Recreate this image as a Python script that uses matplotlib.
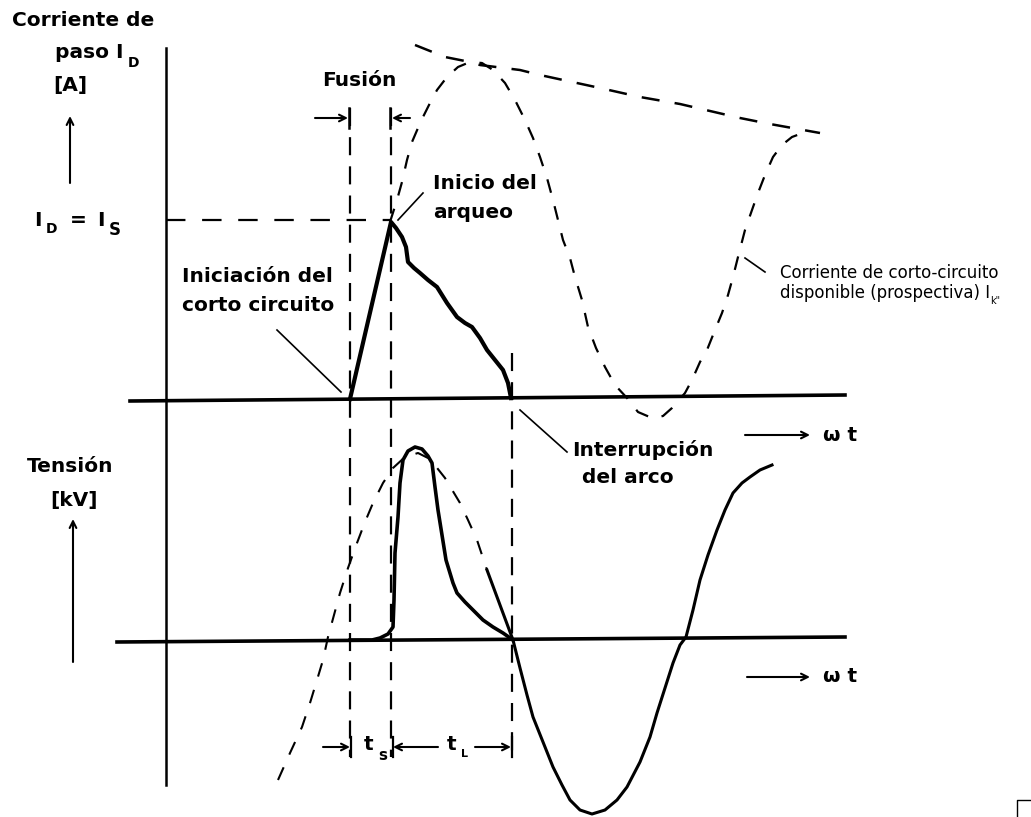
import matplotlib
matplotlib.use("Agg")
import matplotlib.pyplot as plt

plt.rcParams["lines.scale_dashes"] = False
plt.rcParams["font.family"] = ["DejaVu Sans"]

# ---------------------------------------------------------------
# traced curves (image pixel coordinates: x right, y down)
# ---------------------------------------------------------------

# actual let-through current (thick)
current_x = [350, 391, 396, 402, 406, 408, 414, 420, 428, 437, 442, 447,
             457, 465, 472, 480, 487, 495, 503, 508, 511]
current_y = [399, 222, 228, 237, 247, 262, 268, 273, 280, 287, 295, 303,
             317, 323, 327, 338, 350, 360, 370, 383, 398]

# prospective short-circuit current (dashed)
prosp_x = [390, 397, 402, 407, 412, 418, 423, 430, 437, 447, 458, 470,
           482, 493, 505, 515, 525, 533, 540, 547, 553, 558, 563, 570,
           575, 582, 588, 596, 605, 615, 627, 638, 652, 663, 672, 685,
           692, 700, 707, 715, 722, 728, 733, 738, 745, 752, 758, 765,
           773, 782, 792, 808]
prosp_y = [222, 200, 182, 160, 142, 128, 117, 103, 90, 77, 67, 62,
           63, 70, 83, 100, 120, 138, 157, 178, 200, 220, 240, 258,
           277, 300, 327, 348, 367, 385, 398, 412, 418, 416, 408, 393,
           380, 362, 350, 330, 313, 295, 277, 257, 230, 210, 193, 175,
           157, 145, 137, 131]

# envelope of the prospective current (dashed)
env_x = [415, 445, 470, 480, 520, 540, 600, 640, 680, 740, 770, 820]
env_y = [45, 57, 62, 65, 70, 75, 88, 97, 104, 118, 124, 133]

# arc voltage (thick)
volt_x = [350, 372, 380, 388, 393, 394, 395, 398, 400, 403, 408, 415,
          422, 428, 432, 435, 438, 442, 446, 453, 457, 465, 473, 483,
          493, 503, 513]
volt_y = [640, 640, 638, 634, 627, 600, 553, 517, 483, 460, 451, 447,
          449, 456, 463, 487, 510, 535, 560, 583, 593, 602, 610, 620,
          627, 633, 640]

# prospective voltage before interruption (dashed)
vprosp_x = [278, 290, 302, 310, 317, 323, 328, 334, 340, 348, 357, 365,
            373, 383, 393, 405, 418, 430, 445, 460, 468, 477, 487]
vprosp_y = [780, 753, 727, 703, 680, 660, 637, 615, 593, 568, 543, 522,
            503, 483, 468, 457, 453, 459, 478, 503, 520, 540, 570]

# recovery voltage after interruption (solid)
vrec_x = [487, 500, 513, 520, 527, 533, 543, 553, 562, 570, 580, 592,
          605, 617, 627, 640, 650, 657, 665, 673, 680, 686, 693, 700,
          708, 717, 725, 733, 742, 750, 760, 772]
vrec_y = [570, 605, 640, 668, 695, 717, 742, 767, 785, 800, 810, 814,
          810, 800, 787, 762, 737, 713, 688, 663, 645, 637, 610, 580,
          555, 530, 510, 493, 483, 477, 470, 465]

# marker positions
t_start = 350      # short circuit begins
t_arc = 391        # arcing begins
t_end = 512        # arc interrupted
i_peak = 220       # I_D = I_S level

fig = plt.figure(figsize=(10.31, 8.17), dpi=100)
ax = fig.add_axes([0, 0, 1, 1])
ax.set_xlim(0, 1031)
ax.set_ylim(817, 0)
ax.axis("off")

K = "black"
dash_long = (0, (13, 8))
dash_curve = (0, (10, 10))

# axes lines
ax.plot([166, 166], [48, 785], color=K, lw=1.8)
ax.plot([130, 845], [401, 395], color=K, lw=2.6)
ax.plot([117, 845], [642, 637], color=K, lw=2.6)

# vertical time markers
ax.plot([t_start, t_start], [108, 757], color=K, lw=1.6, linestyle=dash_long)
ax.plot([t_arc, t_arc], [108, 757], color=K, lw=1.6, linestyle=dash_long)
ax.plot([t_end, t_end], [353, 757], color=K, lw=1.6, linestyle=dash_long)
ax.plot([166, t_arc], [i_peak, i_peak], color=K, lw=1.6,
        linestyle=(0, (14, 12)))

# curves
ax.plot(prosp_x, prosp_y, color=K, lw=1.6, linestyle=dash_curve)
ax.plot(env_x, env_y, color=K, lw=1.8, linestyle=(0, (13, 11)))
ax.plot(current_x, current_y, color=K, lw=3.0, solid_joinstyle="round")
ax.plot(vprosp_x, vprosp_y, color=K, lw=1.5, linestyle=dash_curve)
ax.plot(vrec_x, vrec_y, color=K, lw=2.2)
ax.plot(volt_x, volt_y, color=K, lw=2.6, solid_joinstyle="round")

# arrows
arr = dict(arrowstyle="->", color=K, lw=1.5, shrinkA=0, shrinkB=0,
           mutation_scale=12)
for x0, y0, x1, y1 in [
    (70, 183, 70, 116),      # current axis
    (73, 662, 73, 519),      # voltage axis
    (745, 435, 810, 435),    # wt top
    (747, 677, 810, 677),    # wt bottom
    (315, 118, 348, 118),    # Fusion
    (410, 118, 392, 118),
    (323, 747, 350, 747),    # t_s
    (438, 747, 393, 747),    # t_L
    (475, 747, 511, 747),
]:
    ax.annotate("", xy=(x1, y1), xytext=(x0, y0), arrowprops=arr)

# short bars at the fusion / time arrows
for x in (349, 390):
    ax.plot([x, x], [108, 128], color=K, lw=1.8)
for x in (351, 393, 512):
    ax.plot([x, x], [737, 757], color=K, lw=1.6)

# leader lines
for (x0, y0), (x1, y1) in [
    ((423, 193), (398, 220)),
    ((277, 330), (341, 392)),
    ((520, 410), (567, 452)),
    ((745, 258), (765, 272)),
]:
    ax.plot([x0, x1], [y0, y1], color=K, lw=1.2)

# labels
big = dict(fontsize=14.5, fontweight="bold", color=K, va="center", ha="left")


def subscript(parent, s, size=10, dx=2, dy=-6, weight="bold"):
    # small index glued to the right end of a label
    ax.annotate(s, xy=(1, 0), xycoords=parent, xytext=(dx, dy),
                textcoords="offset points", fontsize=size,
                fontweight=weight, color=K, va="bottom", ha="left")


ax.text(12, 20, "Corriente de", **big)
t = ax.text(55, 52, "paso I", **big)
subscript(t, "D", dx=3, dy=-6)
ax.text(53, 85, "[A]", **big)
t = ax.text(34, 220, "I", **big)
subscript(t, "D", dx=3, dy=-5)
ax.text(70, 220, "=", **big)
t = ax.text(97, 220, "I", **big)
subscript(t, "S", size=12, dx=3, dy=-7)

ax.text(322, 80, "Fusión", **big)
ax.text(433, 183, "Inicio del", **big)
ax.text(433, 212, "arqueo", **big)
ax.text(182, 277, "Iniciación del", **big)
ax.text(182, 305, "corto circuito", **big)
ax.text(572, 450, "Interrupción", **big)
ax.text(582, 477, "del arco", **big)

ax.text(27, 466, "Tensión", **big)
ax.text(50, 500, "[kV]", **big)

ax.text(823, 435, "ω t", **big)
ax.text(823, 677, "ω t", **big)

t = ax.text(364, 744, "t", **big)
subscript(t, "s", size=11, dx=3, dy=-7)
t = ax.text(447, 744, "t", **big)
subscript(t, "L", size=8, dx=3, dy=-4)

small = dict(fontsize=12, color=K, va="center", ha="left")
ax.text(780, 273, "Corriente de corto-circuito", **small)
t = ax.text(780, 293, "disponible (prospectiva) I", **small)
subscript(t, "k\"", size=7, dx=0, dy=-3, weight="normal")

# scan corner mark
ax.plot([1017, 1017, 1031], [817, 800, 800], color=K, lw=1.0)

fig.savefig("out.png", dpi=100)
